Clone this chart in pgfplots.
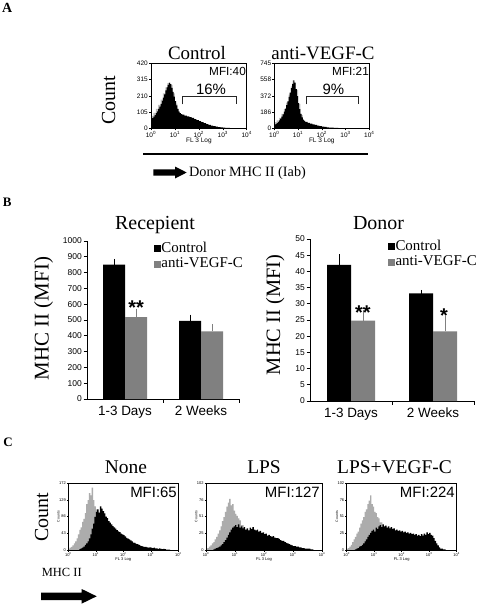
\documentclass[border=0pt]{standalone}
\usepackage{pgfplots}
\pgfplotsset{compat=1.18}
\usepackage{fontspec}
\setmainfont{Liberation Serif}
\setsansfont{Liberation Sans}
\definecolor{barg}{RGB}{128,128,128}
\definecolor{histg}{RGB}{172,172,172}
\definecolor{histga}{RGB}{190,190,190}
\newcommand{\fs}[1]{\fontsize{#1}{#1}\selectfont}

\pgfplotsset{
  every axis/.append style={/pgf/number format/assume math mode=true, /pgf/number format/1000 sep={}},
  hist/.style={
    scale only axis, axis on top,
    xmin=0, xmax=4, ymin=0,
    xtick={0,1,2,3,4},
    xticklabels={10\textsuperscript{0},10\textsuperscript{1},10\textsuperscript{2},10\textsuperscript{3},10\textsuperscript{4}},
    tick align=outside, tick pos=left,
    major tick length=2bp,
    axis line style={line width=0.6bp},
    tick style={line width=0.5bp, black},
    every tick label/.append style={font=\sffamily\fs{6.5}, inner sep=1bp},
    xlabel={FL 3 Log},
    xlabel style={font=\sffamily\fs{6.5}, inner sep=0pt, yshift=0bp},
  },
  histc/.style={
    hist,
    major tick length=1.5bp,
    every tick label/.append style={font=\sffamily\fs{4}, inner sep=0.8bp},
    xlabel style={font=\sffamily\fs{4}, inner sep=0pt, yshift=0bp},
    ylabel={Counts},
    ylabel style={font=\sffamily\fs{3.5}, inner sep=0pt, yshift=-1.5bp},
  },
  bars/.style={
    scale only axis, ybar=0pt, ymin=0, xmin=-0.5, xmax=1.5,
    axis x line*=bottom, axis y line*=left,
    axis line style={line width=0.9bp},
    xtick={0,1}, xticklabels={1-3 Days,2 Weeks},
    xtick style={draw=none},
    extra x ticks={0.5,1.5}, extra x tick labels={},
    extra x tick style={xtick style={draw=black}},
    tick align=outside, major tick length=3.5bp,
    tick style={line width=0.8bp, black},
    y tick label style={font=\sffamily\fs{8.5}, inner sep=1.5bp},
    x tick label style={font=\sffamily\fs{13.5}},
    legend style={draw=none, fill=none, anchor=north west, font=\fs{15},
      inner sep=0pt, row sep=2bp, nodes={inner sep=1bp}},
    legend cell align=left,
  },
  ctl/.style={fill=black, draw=none, forget plot, error bars/.cd, y dir=plus, y explicit,
    error bar style={black, line width=0.8bp}, error mark options={black, mark size=3bp, line width=0.8bp}},
  anti/.style={fill=barg, draw=none, forget plot, error bars/.cd, y dir=plus, y explicit,
    error bar style={barg, line width=0.8bp}, error mark options={barg, mark size=3bp, line width=0.8bp}},
}

\begin{document}
\begin{tikzpicture}
\useasboundingbox (0,0) rectangle (480bp,-606bp);
\fill[white] (0,0) rectangle (480bp,-606bp);

% ---------- panel letters
\node[anchor=base west, inner sep=0pt, font=\bfseries\fs{14}] at (2bp,-12.7bp) {A};
\node[anchor=base west, inner sep=0pt, font=\bfseries\fs{13}] at (2.7bp,-206.7bp) {B};
\node[anchor=base west, inner sep=0pt, font=\bfseries\fs{13}] at (3.3bp,-446.7bp) {C};

% ================= PANEL A
\node[anchor=base, inner sep=0pt, font=\fs{19}] at (197bp,-59.3bp) {Control};
\node[anchor=base, inner sep=0pt, font=\fs{19}] at (323bp,-59.3bp) {anti-VEGF-C};
\node[anchor=base, rotate=90, inner sep=0pt, font=\fs{20}] at (115bp,-100bp) {Count};

\begin{axis}[hist, at={(151bp,-128.3bp)}, anchor=south west, width=95.7bp, height=65bp,
  ymax=420, ytick={0,105,210,315,420}]
\addplot[const plot, fill=histga, draw=none] coordinates {(0,80) (0.1,100) (0.2,125) (0.3,152) (0.4,185) (0.5,225) (0.6,265) (0.68,292) (0.75,298) (0.8,280) (0.9,225) (1.0,160) (1.1,110) (1.2,80) (1.3,60) (1.4,0)} \closedcycle;
\addplot[const plot, fill=black, draw=none] coordinates {(0,60) (0.05,66) (0.1,76) (0.15,85) (0.2,98) (0.25,110) (0.3,125) (0.35,140) (0.4,158) (0.45,178) (0.5,198) (0.55,220) (0.6,245) (0.65,265) (0.7,280) (0.75,292) (0.8,285) (0.85,262) (0.9,235) (0.95,205) (1.0,175) (1.05,148) (1.1,125) (1.15,108) (1.2,98) (1.25,92) (1.3,88) (1.4,82) (1.5,77) (1.6,73) (1.7,67) (1.8,60) (1.9,53) (2.0,46) (2.1,40) (2.2,33) (2.3,27) (2.4,22) (2.5,17) (2.6,14) (2.7,11) (2.8,8) (2.9,6) (3.0,5) (3.1,3) (3.2,2) (3.3,1) (3.4,0)} \closedcycle;
\end{axis}
\node[anchor=base east, inner sep=0pt, font=\sffamily\fs{11.8}] at (246bp,-75bp) {MFI:40};
\node[anchor=base, inner sep=0pt, font=\sffamily\fs{15}] at (211bp,-94.3bp) {16\%};
\draw[line width=0.8bp, black!85] (182.7bp,-104.3bp) -- (182.7bp,-96.7bp) -- (236bp,-96.7bp) -- (236bp,-104.3bp);

\begin{axis}[hist, at={(274.3bp,-128.3bp)}, anchor=south west, width=95bp, height=65bp,
  ymax=745, ytick={0,186,372,558,745}]
\addplot[const plot, fill=histga, draw=none] coordinates {(0,70) (0.1,90) (0.2,120) (0.3,165) (0.4,220) (0.5,295) (0.6,385) (0.7,480) (0.77,550) (0.82,530) (0.9,440) (1.0,280) (1.1,150) (1.2,90) (1.3,0)} \closedcycle;
\addplot[const plot, fill=black, draw=none] coordinates {(0,40) (0.05,48) (0.1,60) (0.15,75) (0.2,92) (0.25,110) (0.3,135) (0.35,160) (0.4,190) (0.45,225) (0.5,265) (0.55,310) (0.6,360) (0.65,410) (0.7,460) (0.75,510) (0.8,548) (0.85,520) (0.9,450) (0.95,370) (1.0,290) (1.05,220) (1.1,165) (1.15,125) (1.2,100) (1.25,85) (1.3,75) (1.4,62) (1.5,53) (1.6,45) (1.7,38) (1.8,31) (1.9,25) (2.0,20) (2.1,16) (2.2,12) (2.3,9) (2.4,7) (2.5,5) (2.6,4) (2.7,3) (2.8,2) (2.9,1) (3.0,0)} \closedcycle;
\end{axis}
\node[anchor=base east, inner sep=0pt, font=\sffamily\fs{11.8}] at (369bp,-75bp) {MFI:21};
\node[anchor=base, inner sep=0pt, font=\sffamily\fs{15}] at (333.3bp,-94.3bp) {9\%};
\draw[line width=0.8bp, black!85] (306bp,-104.3bp) -- (306bp,-96.7bp) -- (358.7bp,-96.7bp) -- (358.7bp,-104.3bp);

\draw[line width=2bp] (143.3bp,-154bp) -- (367.7bp,-154bp);
\fill (153.3bp,-169.3bp) -- (175bp,-169.3bp) -- (175bp,-166.5bp) -- (186.7bp,-172.5bp) -- (175bp,-178.5bp) -- (175bp,-175.7bp) -- (153.3bp,-175.7bp) -- cycle;
\node[anchor=base west, inner sep=0pt, font=\fs{14.3}] at (189bp,-176bp) {Donor MHC II (Iab)};

% ================= PANEL B
\node[anchor=base, inner sep=0pt, font=\fs{20}] at (155bp,-229bp) {Recepient};
\node[anchor=base, inner sep=0pt, font=\fs{20}] at (378.5bp,-229bp) {Donor};
\node[anchor=base, rotate=90, inner sep=0pt, font=\fs{21}] at (48.5bp,-318.5bp) {MHC II (MFI)};
\node[anchor=base, rotate=90, inner sep=0pt, font=\fs{20.5}] at (280bp,-315bp) {MHC II (MFI)};

\begin{axis}[bars, at={(87bp,-399bp)}, anchor=south west, width=152bp, height=158bp,
  ymax=1000, ytick={0,100,...,1000}, bar width=22bp,
  legend style={at={(0.44,1.0)}}]
\addplot[bar shift=-11bp, ctl] coordinates {(0,850) +- (0,18) (1,495) +- (0,20)};
\addplot[bar shift=11bp, anti] coordinates {(0,518) +- (0,35) (1,428) +- (0,27)};
\addlegendimage{legend image code/.code={\fill[black] (0bp,-3bp) rectangle (6bp,3bp);}}
\addlegendentry{Control}
\addlegendimage{legend image code/.code={\fill[barg] (0bp,-3bp) rectangle (6bp,3bp);}}
\addlegendentry{anti-VEGF-C}
\node[anchor=base, inner sep=0pt, font=\sffamily\bfseries\fs{20}] at (axis cs:0.145,532) {**};
\end{axis}

\begin{axis}[bars, at={(310bp,-401bp)}, anchor=south west, width=164bp, height=162bp,
  ymax=50, ytick={0,5,...,50}, bar width=24bp,
  legend style={at={(0.475,1.0)}}]
\addplot[bar shift=-12bp, ctl] coordinates {(0,42) +- (0,2.3) (1,33.2) +- (0,0.15)};
\addplot[bar shift=12bp, anti] coordinates {(0,24.8) +- (0,2.4) (1,21.5) +- (0,3.9)};
\addlegendimage{legend image code/.code={\fill[black] (0bp,-3bp) rectangle (6bp,3bp);}}
\addlegendentry{Control}
\addlegendimage{legend image code/.code={\fill[barg] (0bp,-3bp) rectangle (6bp,3bp);}}
\addlegendentry{anti-VEGF-C}
\node[anchor=base, inner sep=0pt, font=\sffamily\bfseries\fs{20}] at (axis cs:0.146,25.3) {**};
\node[anchor=base, inner sep=0pt, font=\sffamily\bfseries\fs{20}] at (axis cs:1.135,24.2) {*};
\end{axis}

% ================= PANEL C
\node[anchor=base, inner sep=0pt, font=\fs{19.5}] at (126bp,-473bp) {None};
\node[anchor=base, inner sep=0pt, font=\fs{19.5}] at (264bp,-473bp) {LPS};
\node[anchor=base, inner sep=0pt, font=\fs{19.5}] at (394.5bp,-473bp) {LPS+VEGF-C};
\node[anchor=base, rotate=90, inner sep=0pt, font=\fs{20}] at (48bp,-517bp) {Count};

\begin{axis}[histc, at={(68.3bp,-550bp)}, anchor=south west, width=110bp, height=67bp,
  ymax=172, ytick={0,43,86,129,172}]
\addplot[const plot, fill=histg, draw=none] coordinates {(0,3) (0.05,6) (0.1,8) (0.15,12) (0.2,17) (0.25,22) (0.3,30) (0.35,40) (0.4,52) (0.45,58) (0.5,72) (0.55,80) (0.6,95) (0.65,118) (0.7,128) (0.75,146) (0.8,140) (0.85,160) (0.9,128) (0.95,112) (1.0,104) (1.05,95) (1.1,70) (1.15,55) (1.2,40) (1.3,25) (1.4,12) (1.5,6) (1.6,2) (1.7,0)} \closedcycle;
\addplot[const plot, fill=black, draw=none] coordinates {(0.4,2) (0.45,4) (0.5,6) (0.55,9) (0.6,13) (0.65,17) (0.7,22) (0.75,30) (0.8,40) (0.85,55) (0.9,68) (0.95,85) (1.0,98) (1.05,104) (1.1,96) (1.15,112) (1.2,106) (1.25,100) (1.3,94) (1.35,86) (1.4,82) (1.45,74) (1.5,70) (1.55,66) (1.6,61) (1.65,58) (1.7,55) (1.75,51) (1.8,48) (1.85,46) (1.9,42) (1.95,40) (2.0,38) (2.05,35) (2.1,31) (2.15,29) (2.2,27) (2.25,25) (2.3,22) (2.35,19) (2.4,18) (2.45,16) (2.5,15) (2.55,13) (2.6,11) (2.65,10) (2.7,9) (2.75,8) (2.8,8) (2.85,7) (2.9,6) (2.95,7) (3.0,6) (3.05,5) (3.1,6) (3.15,4) (3.2,4) (3.25,3) (3.3,4) (3.35,3) (3.4,2) (3.45,3) (3.5,2) (3.55,1) (3.6,1) (3.7,0)} \closedcycle;
\end{axis}
\node[anchor=base east, inner sep=0pt, font=\sffamily\fs{15}] at (177bp,-497bp) {MFI:65};

\begin{axis}[histc, at={(206bp,-550bp)}, anchor=south west, width=116bp, height=67bp,
  ymax=102, ytick={0,25,51,76,102}]
\addplot[const plot, fill=histg, draw=none] coordinates {(0,2) (0.05,3) (0.1,5) (0.15,7) (0.2,10) (0.25,12) (0.3,16) (0.35,20) (0.4,25) (0.45,30) (0.5,36) (0.55,44) (0.6,50) (0.65,58) (0.7,66) (0.75,72) (0.8,78) (0.85,68) (0.9,70) (0.95,60) (1.0,55) (1.05,52) (1.1,48) (1.15,45) (1.2,38) (1.3,28) (1.4,18) (1.5,9) (1.6,3) (1.7,0)} \closedcycle;
\addplot[const plot, fill=black, draw=none] coordinates {(0.25,1) (0.3,2) (0.35,3) (0.4,4) (0.45,5) (0.5,7) (0.55,9) (0.6,12) (0.65,15) (0.7,19) (0.75,23) (0.8,27) (0.85,31) (0.9,34) (0.95,36) (1.0,38) (1.05,35) (1.1,39) (1.15,34) (1.2,36) (1.25,33) (1.3,35) (1.35,31) (1.4,33) (1.45,30) (1.5,34) (1.55,32) (1.6,35) (1.65,31) (1.7,30) (1.75,31) (1.8,28) (1.85,29) (1.9,26) (1.95,27) (2.0,24) (2.05,25) (2.1,22) (2.15,23) (2.2,21) (2.25,20) (2.3,21) (2.35,19) (2.4,18) (2.45,18) (2.5,17) (2.55,15) (2.6,14) (2.65,14) (2.7,12) (2.75,11) (2.8,10) (2.85,9) (2.9,8) (2.95,7) (3.0,6) (3.1,5) (3.2,4) (3.3,3) (3.4,2) (3.5,2) (3.6,1) (3.7,0)} \closedcycle;
\end{axis}
\node[anchor=base east, inner sep=0pt, font=\sffamily\fs{15}] at (320bp,-497bp) {MFI:127};

\begin{axis}[histc, at={(346.7bp,-550bp)}, anchor=south west, width=110bp, height=67bp,
  ymax=102, ytick={0,25,51,76,102}]
\addplot[const plot, fill=histg, draw=none] coordinates {(0,2) (0.05,3) (0.1,5) (0.15,8) (0.2,12) (0.25,16) (0.3,20) (0.35,25) (0.4,28) (0.45,34) (0.5,40) (0.55,45) (0.6,50) (0.65,58) (0.7,62) (0.75,70) (0.8,75) (0.85,83) (0.9,70) (0.95,66) (1.0,58) (1.05,56) (1.1,50) (1.15,48) (1.2,42) (1.3,30) (1.4,20) (1.5,10) (1.6,4) (1.7,0)} \closedcycle;
\addplot[const plot, fill=black, draw=none] coordinates {(0.3,1) (0.35,2) (0.4,3) (0.45,5) (0.5,6) (0.55,8) (0.6,10) (0.65,13) (0.7,16) (0.75,20) (0.8,23) (0.85,26) (0.9,29) (0.95,31) (1.0,28) (1.05,34) (1.1,32) (1.15,36) (1.2,38) (1.25,35) (1.3,39) (1.35,36) (1.4,37) (1.45,34) (1.5,36) (1.55,33) (1.6,35) (1.65,32) (1.7,33) (1.75,30) (1.8,31) (1.85,29) (1.9,30) (1.95,28) (2.0,29) (2.05,27) (2.1,28) (2.15,26) (2.2,27) (2.25,25) (2.3,26) (2.35,24) (2.4,25) (2.45,23) (2.5,24) (2.55,22) (2.6,23) (2.65,21) (2.7,24) (2.75,22) (2.8,25) (2.85,23) (2.9,27) (2.95,24) (3.0,26) (3.05,23) (3.1,22) (3.15,18) (3.2,14) (3.25,10) (3.3,7) (3.35,4) (3.4,2) (3.5,1) (3.6,0)} \closedcycle;
\end{axis}
\node[anchor=base east, inner sep=0pt, font=\sffamily\fs{15}] at (455bp,-497bp) {MFI:224};

\node[anchor=base west, inner sep=0pt, font=\fs{12.5}] at (41.7bp,-576.7bp) {MHC II};
\fill (41bp,-592.7bp) -- (81.7bp,-592.7bp) -- (81.7bp,-589bp) -- (96.7bp,-596.3bp) -- (81.7bp,-603.6bp) -- (81.7bp,-600bp) -- (41bp,-600bp) -- cycle;

\end{tikzpicture}
\end{document}
